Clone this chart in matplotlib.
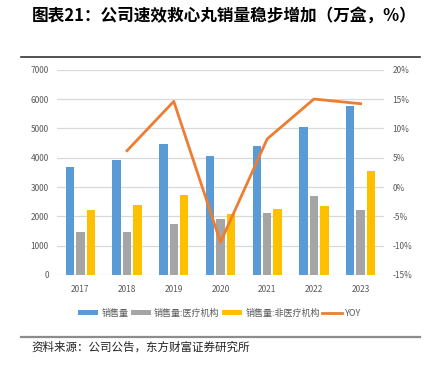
import numpy as np
import matplotlib.pyplot as plt
from matplotlib.lines import Line2D

plt.rcParams['font.family'] = ['Noto Sans CJK SC', 'DejaVu Sans']

# data (万盒, %)
years = ['2017', '2018', '2019', '2020', '2021', '2022', '2023']
sales_total = [3680, 3920, 4470, 4060, 4390, 5050, 5760]
sales_medical = [1450, 1480, 1730, 1920, 2110, 2680, 2210]
sales_nonmedical = [2230, 2390, 2740, 2090, 2250, 2350, 3540]
yoy = [None, 6.2, 14.6, -9.4, 8.2, 15.0, 14.2]

W, H = 429, 368
fig = plt.figure(figsize=(W / 100, H / 100), dpi=100)

# title and rules
fig.text(32 / W, 1 - 17 / H, '图表21：公司速效救心丸销量稳步增加（万盒，%）',
         fontsize=12, fontweight='bold', va='center', ha='left')
fig.add_artist(Line2D([21 / W, 420 / W], [1 - 56.5 / H] * 2, color='#333333', lw=1.2))
fig.add_artist(Line2D([21 / W, 420 / W], [1 - 336.5 / H] * 2, color='#8c8c8c', lw=1.6))
fig.text(31 / W, 1 - 347 / H, '资料来源：公司公告，东方财富证券研究所',
         fontsize=8.3, va='center', ha='left', color='#222222')

ax = fig.add_axes([57 / W, 93 / H, 327 / W, 205.3 / H])
x = np.arange(len(years))
off = 0.222
bw = 0.18
ax.bar(x - off, sales_total, bw, color='#5B9BD5', label='销售量', zorder=3)
ax.bar(x, sales_medical, bw, color='#A5A5A5', label='销售量:医疗机构', zorder=3)
ax.bar(x + off, sales_nonmedical, bw, color='#FFC000', label='销售量:非医疗机构', zorder=3)

ax.set_xlim(-0.5, 6.5)
ax.set_ylim(0, 7000)
ax.set_yticks(range(0, 7001, 1000))
ax.set_xticks(x)
ax.set_xticklabels(years)
ax.grid(axis='y', color='#D9D9D9', lw=0.9, zorder=0)
ax.set_axisbelow(True)
for s in ax.spines.values():
    s.set_visible(False)
ax.tick_params(length=0, labelsize=6, labelcolor='#595959')
ax.tick_params(axis='y', pad=6)
ax.tick_params(axis='x', pad=7)

ax2 = ax.twinx()
yx = [i for i, v in enumerate(yoy) if v is not None]
yv = [v for v in yoy if v is not None]
ax2.plot(yx, yv, color='#ED7D31', lw=2.0, label='YOY', zorder=4)
ax2.set_ylim(-15, 20)
ax2.set_yticks(range(-15, 21, 5))
ax2.set_yticklabels([f'{t}%' for t in range(-15, 21, 5)])
for s in ax2.spines.values():
    s.set_visible(False)
ax2.tick_params(length=0, labelsize=6, labelcolor='#595959', pad=6)

h1, l1 = ax.get_legend_handles_labels()
h2, l2 = ax2.get_legend_handles_labels()
fig.legend(h1 + h2, l1 + l2, loc='center', bbox_to_anchor=(220 / W, 1 - 313 / H),
           ncol=4, frameon=False, fontsize=6.5, handlelength=2.2, handleheight=0.45,
           columnspacing=0.3, handletextpad=0.35, labelcolor='#595959')

fig.savefig('out.png', dpi=100)
